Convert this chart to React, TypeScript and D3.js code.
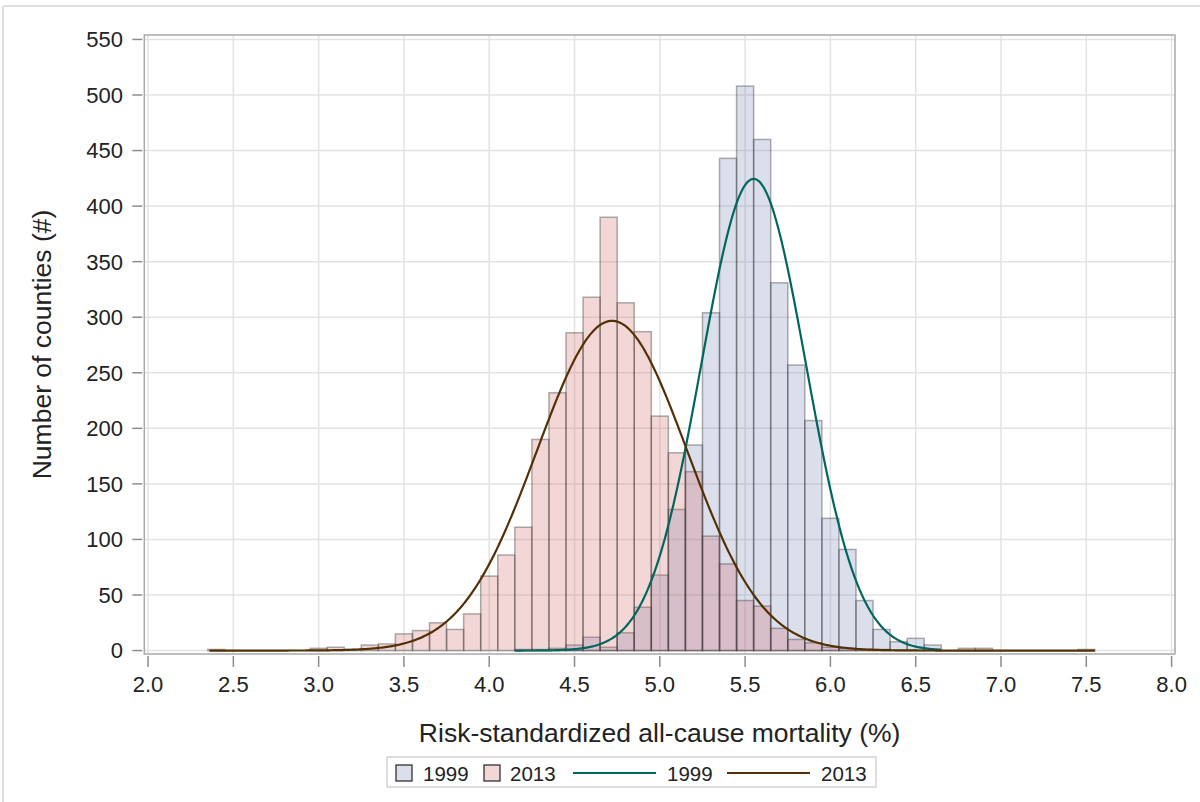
import * as React from 'react';
import * as d3 from 'd3';

// histogram bins (bin centre, width 0.1) and county counts
const bins1999 = [4.2, 4.3, 4.4, 4.5, 4.6, 4.7, 4.8, 4.9, 5.0, 5.1, 5.2, 5.3, 5.4, 5.5, 5.6, 5.7, 5.8, 5.9, 6.0, 6.1, 6.2, 6.3, 6.4, 6.5, 6.6];
const counts1999 = [1, 1, 2, 5, 12, 3, 16, 39, 68, 127, 185, 304, 443, 508, 460, 331, 257, 207, 119, 91, 45, 19, 8, 11, 5];

const bins2013 = [2.4, 3.0, 3.1, 3.2, 3.3, 3.4, 3.5, 3.6, 3.7, 3.8, 3.9, 4.0, 4.1, 4.2, 4.3, 4.4, 4.5, 4.6, 4.7, 4.8, 4.9, 5.0, 5.1, 5.2, 5.3, 5.4, 5.5, 5.6, 5.7, 5.8, 5.9, 6.0, 6.1, 6.2, 6.3, 6.8, 6.9, 7.5];
const counts2013 = [1, 2, 3, 1, 5, 6, 15, 18, 25, 19, 33, 67, 86, 111, 190, 232, 286, 318, 390, 313, 287, 211, 178, 161, 103, 78, 45, 40, 20, 10, 7, 3, 2, 1, 1, 2, 2, 1];

// fitted normal curves: [mean, sd, n, min, max]
const fit1999 = [5.55, 0.307, 3267, 4.15, 6.65];
const fit2013 = [4.72, 0.44, 3273, 2.36, 7.55];

const xTicks = [2.0, 2.5, 3.0, 3.5, 4.0, 4.5, 5.0, 5.5, 6.0, 6.5, 7.0, 7.5, 8.0];
const yTicks = [0, 50, 100, 150, 200, 250, 300, 350, 400, 450, 500, 550];

const BIN = 0.1;
const FONT = "'Liberation Sans', Arial, sans-serif";
const C1999 = '#6F7EB3';
const C2013 = '#D05B5B';
const L1999 = '#01665E';
const L2013 = '#543005';

export default function App() {
  const svgRef = React.useRef<SVGSVGElement>(null);
  const width = 1200;
  const height = 802;

  React.useEffect(() => {
    if (!svgRef.current) return;
    const svg = d3.select(svgRef.current);
    svg.selectAll('*').remove();

    const left = 144.3, right = 1175, top = 35, bottom = 654;
    const x = d3.scaleLinear().domain([1.978, 8.02]).range([left, right]);
    const y = d3.scaleLinear().domain([-3.1, 554]).range([bottom, top]);

    svg.append('rect').attr('width', width).attr('height', height).attr('fill', 'white');
    // outer border (top / left only visible)
    svg.append('line').attr('x1', 3).attr('x2', width).attr('y1', 6).attr('y2', 6).attr('stroke', '#d6d6d6').attr('stroke-width', 1.5);
    svg.append('line').attr('x1', 3).attr('x2', 3).attr('y1', 6).attr('y2', height).attr('stroke', '#d6d6d6').attr('stroke-width', 1.5);

    // grid
    const grid = svg.append('g');
    grid.selectAll('line.gx').data(xTicks).enter().append('line')
      .attr('x1', (d) => x(d)).attr('x2', (d) => x(d)).attr('y1', top).attr('y2', bottom)
      .attr('stroke', '#e3e3e3').attr('stroke-width', 1.5);
    grid.selectAll('line.gy').data(yTicks).enter().append('line')
      .attr('x1', left).attr('x2', right).attr('y1', (d) => y(d)).attr('y2', (d) => y(d))
      .attr('stroke', '#e3e3e3').attr('stroke-width', 1.5);

    const drawBars = (bins: number[], counts: number[], color: string) => {
      svg.append('g').selectAll('rect').data(bins).enter().append('rect')
        .attr('x', (d) => x(d - BIN / 2))
        .attr('width', (d) => x(d + BIN / 2) - x(d - BIN / 2))
        .attr('y', (d, i) => y(counts[i]))
        .attr('height', (d, i) => y(0) - y(counts[i]))
        .attr('fill', color).attr('fill-opacity', 0.25)
        .attr('stroke', '#3a3a3a').attr('stroke-opacity', 0.4).attr('stroke-width', 1.5);
    };
    drawBars(bins1999, counts1999, C1999);
    drawBars(bins2013, counts2013, C2013);

    const drawFit = (fit: number[], color: string) => {
      const [mu, sd, n, lo, hi] = fit;
      const pts = d3.range(lo, hi + 0.0001, 0.01).map((v) => [v, n * BIN * Math.exp(-((v - mu) ** 2) / (2 * sd * sd)) / (sd * Math.sqrt(2 * Math.PI))]);
      const line = d3.line<number[]>().x((d) => x(d[0])).y((d) => y(d[1]));
      svg.append('path').attr('d', line(pts)).attr('fill', 'none').attr('stroke', color).attr('stroke-width', 2.2);
    };
    drawFit(fit1999, L1999);
    drawFit(fit2013, L2013);

    // frame
    svg.append('rect').attr('x', left).attr('y', top).attr('width', right - left).attr('height', bottom - top)
      .attr('fill', 'none').attr('stroke', '#a9a9a9').attr('stroke-width', 1.5);

    // axes
    const xAxis = svg.append('g');
    xAxis.selectAll('line').data(xTicks).enter().append('line')
      .attr('x1', (d) => x(d)).attr('x2', (d) => x(d)).attr('y1', bottom + 2).attr('y2', bottom + 13)
      .attr('stroke', '#8c8c8c').attr('stroke-width', 1.5);
    xAxis.selectAll('text').data(xTicks).enter().append('text')
      .attr('x', (d) => x(d)).attr('y', 692).attr('text-anchor', 'middle')
      .attr('font-family', FONT).attr('font-size', 22).attr('fill', '#222')
      .text((d) => d3.format('.1f')(d));

    const yAxis = svg.append('g');
    yAxis.selectAll('line').data(yTicks).enter().append('line')
      .attr('x1', left - 12).attr('x2', left - 2).attr('y1', (d) => y(d)).attr('y2', (d) => y(d))
      .attr('stroke', '#8c8c8c').attr('stroke-width', 1.5);
    yAxis.selectAll('text').data(yTicks).enter().append('text')
      .attr('x', 123).attr('y', (d) => y(d)).attr('dy', '0.36em').attr('text-anchor', 'end')
      .attr('font-family', FONT).attr('font-size', 22).attr('fill', '#222')
      .text((d) => d);

    svg.append('text').attr('x', (left + right) / 2).attr('y', 742).attr('text-anchor', 'middle')
      .attr('font-family', FONT).attr('font-size', 26.5).attr('fill', '#222')
      .text('Risk-standardized all-cause mortality (%)');
    svg.append('text').attr('transform', `translate(51, ${(top + bottom) / 2}) rotate(-90)`).attr('text-anchor', 'middle')
      .attr('font-family', FONT).attr('font-size', 26.5).attr('fill', '#222')
      .text('Number of counties (#)');

    // legend
    const lg = svg.append('g');
    lg.append('rect').attr('x', 387).attr('y', 757).attr('width', 489).attr('height', 30)
      .attr('fill', 'white').attr('stroke', '#d4d4d4').attr('stroke-width', 1.5);
    const items = [
      { type: 'box', color: C1999, label: '1999', x0: 396, tx: 423 },
      { type: 'box', color: C2013, label: '2013', x0: 484, tx: 510 },
      { type: 'line', color: L1999, label: '1999', x0: 573, tx: 667 },
      { type: 'line', color: L2013, label: '2013', x0: 727, tx: 821 },
    ];
    items.forEach((it) => {
      if (it.type === 'box') {
        lg.append('rect').attr('x', it.x0).attr('y', 765).attr('width', 16).attr('height', 16)
          .attr('fill', it.color).attr('fill-opacity', 0.25).attr('stroke', '#222').attr('stroke-width', 1.2);
      } else {
        lg.append('line').attr('x1', it.x0).attr('x2', it.x0 + 83).attr('y1', 773).attr('y2', 773)
          .attr('stroke', it.color).attr('stroke-width', 2);
      }
      lg.append('text').attr('x', it.tx).attr('y', 780.5).attr('font-family', FONT).attr('font-size', 20.5).attr('fill', '#222').text(it.label);
    });
  }, []);

  return (
    <div style={{ position: 'absolute', left: 0, top: 0 }}>
      <svg ref={svgRef} width={width} height={height} style={{ display: 'block' }} />
    </div>
  );
}
